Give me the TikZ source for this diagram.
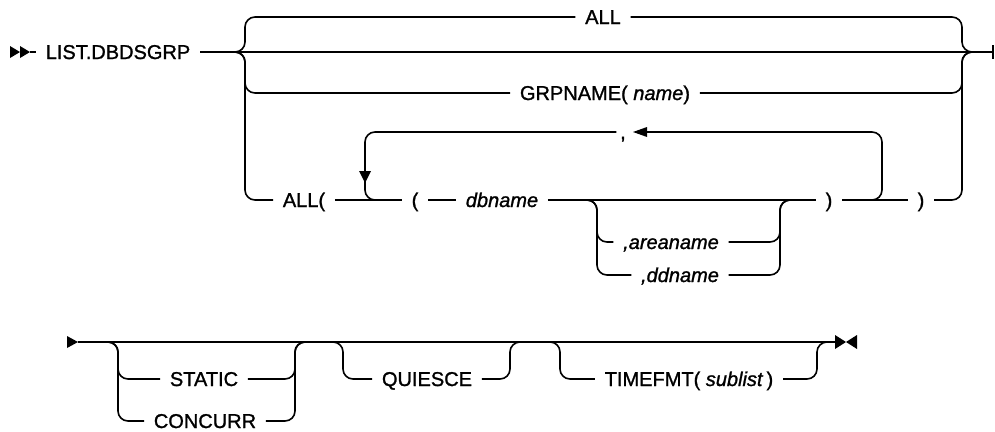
\documentclass[tikz,border=0pt]{standalone}
\usepackage{fontspec}
\setmainfont{Liberation Sans}[FakeBold=1.2]
\begin{document}
\begin{tikzpicture}[x=1pt,y=-1pt,line width=1.6pt,
  rr/.style={rounded corners=10pt},
  lab/.style={font=\fontsize{20}{24}\selectfont, inner xsep=9pt, inner ysep=0pt,
              text height=14pt, text depth=0pt, anchor=center}]
\useasboundingbox (0,0) rectangle (995,431);

% ---------- row 1 : labels ----------
\node[lab] (list) at (118,52) {LIST.DBDSGRP};
\node[lab] (all)  at (603,17) {ALL};
\node[lab] (grp)  at (605,93) {GRPNAME( \textit{name})};
\node[lab] (allp) at (304,200) {ALL(};
\node[lab] (lpar) at (415,200) {(};
\node[lab] (db)   at (502,200) {\textit{dbname}};
\node[lab] (rpa)  at (829,200) {)};
\node[lab] (rpb)  at (921,200) {)};
\node[lab,inner xsep=3pt] (comma) at (623,132) {,};
\node[lab] (area) at (671,242) {\textit{,areaname}};
\node[lab] (dd)   at (680,275) {\textit{,ddname}};

% ---------- row 1 : junctions ----------
\coordinate (sa) at (30,52);
\coordinate (bl) at (233,52);
\coordinate (br) at (974,52);
\coordinate (ea) at (993,52);
\coordinate (jl) at (380,200);
\coordinate (jr) at (870,200);
\coordinate (ol) at (585,200);
\coordinate (orr) at (792,200);
\coordinate (tip) at (633,132);
\coordinate (abase) at (647,132);

% start marker
\fill (10,46) -- (20,52) -- (10,58) -- cycle;
\fill (20,46) -- (30,52) -- (20,58) -- cycle;
\draw (sa) -- (list.west);
\draw (list.east) -- (ea);
\draw (ea) ++(0,-7) -- ++(0,14);

% brace branches
\draw[rr] (bl) -| (245,17) -- (all.west);
\draw[rr] (all.east) -| (962,52) -- (br);
\draw[rr] (bl) -| (245,93) -- (grp.west);
\draw[rr] (grp.east) -| (962,52) -- (br);
\draw[rr] (bl) -| (245,200) -- (allp.west);
\draw (allp.east) -- (lpar.west);
\draw (lpar.east) -- (db.west);
\draw (db.east) -- (rpa.west);
\draw (rpa.east) -- (rpb.west);
\draw[rr] (rpb.east) -| (962,52) -- (br);

% repeat loop
\draw[rr] (jr) -| (882,132) -- (abase);
\fill (tip) -- (abase |- 0,127) -- (abase |- 0,137) -- cycle;
\draw[rr] (comma.west) -| (365,200) -- (jl);
\fill (359,171) -- (371,171) -- (365,183) -- cycle;

% optional group
\draw[rr] (ol) -| (597,242) -- (area.west);
\draw[rr] (area.east) -| (780,200) -- (orr);
\draw[rr] (ol) -| (597,275) -- (dd.west);
\draw[rr] (dd.east) -| (780,200) -- (orr);

% ---------- row 2 ----------
\node[lab] (stat) at (204,379) {STATIC};
\node[lab] (conc) at (205,421) {CONCURR};
\node[lab] (quie) at (427,379) {QUIESCE};
\node[lab] (tfmt) at (689,379) {TIMEFMT( \textit{sublist}\,)};

\coordinate (sb) at (78,342);
\coordinate (eb) at (835,342);
\fill (67,336) -- (sb) -- (67,348) -- cycle;
\draw (sb) -- (eb);

\draw[rr] (106,342) -| (118,379) -- (stat.west);
\draw[rr] (stat.east) -| (295,342) -- (307,342);
\draw[rr] (106,342) -| (118,421) -- (conc.west);
\draw[rr] (conc.east) -| (295,342) -- (307,342);

\draw[rr] (331,342) -| (343,379) -- (quie.west);
\draw[rr] (quie.east) -| (510,342) -- (522,342);

\draw[rr] (548,342) -| (560,379) -- (tfmt.west);
\draw[rr] (tfmt.east) -| (817,342) -- (829,342);

% end marker
\fill (eb) ++(0,-7) -- (846,342) -- (835,349) -- cycle;
\fill (857,335) -- (846,342) -- (857,349) -- cycle;
\end{tikzpicture}
\end{document}
